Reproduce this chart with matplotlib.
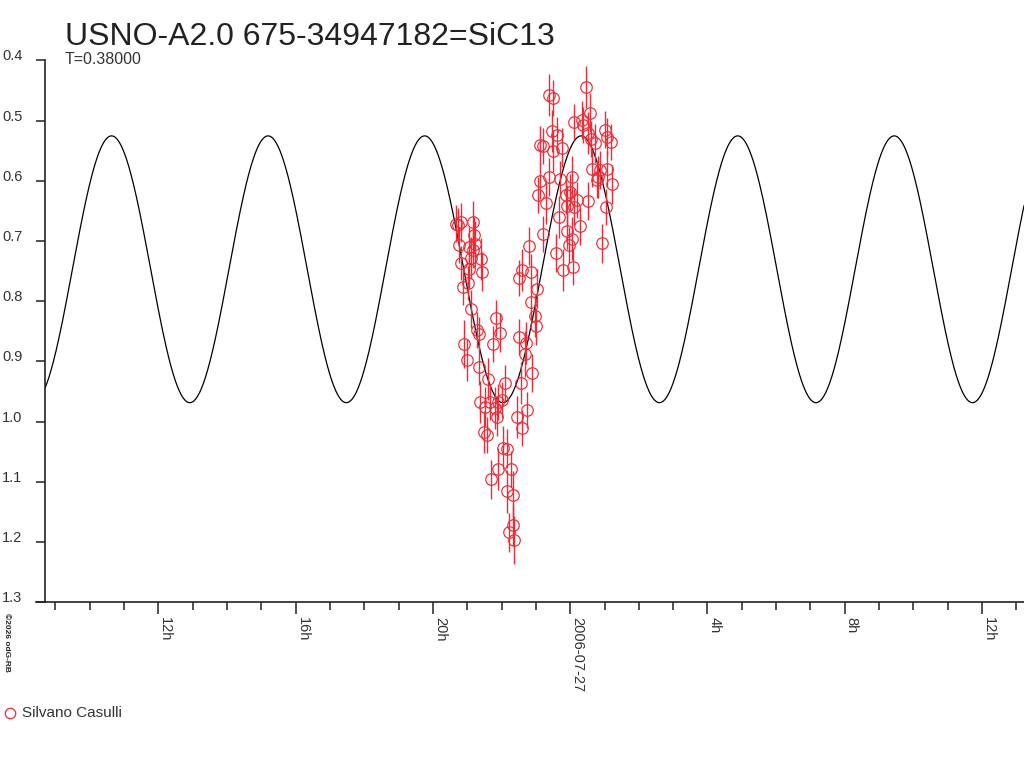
import numpy as np
import matplotlib
matplotlib.use("Agg")
import matplotlib.pyplot as plt
from matplotlib.lines import Line2D

plt.rcParams['font.family'] = ['Liberation Sans', 'DejaVu Sans']

# hours relative to 2006-07-27 00:00, magnitude, error
hours = [-3.33, -3.26, -3.19, -2.83, -3.24, -2.94, -2.78, -2.83, -2.59, -3.19,
         -2.94, -2.56, -2.97, -3.13, -2.89, -2.16, -2.70, -2.66, -2.05, -3.10,
         -2.24, -3.02, -2.66, -2.38, -1.90, -1.44, -1.10, -1.32, -1.29, -1.50,
         -1.99, -2.63, -2.48, -2.34, -2.19, -2.10, -2.14, -1.56, -1.25, -1.41,
         -2.51, -2.43, -1.95, -1.85, -2.10, -1.71, -2.30, -1.85, -1.68, -1.66,
         -1.77, -1.63, -1.21, -1.39, -1.49, -1.14, -0.96, -1.13, -1.03, -1.00,
         -0.80, -0.71, -0.42, -0.62, -0.51, 0.45, 0.59, 0.12, 0.34, 0.38,
         0.52, 1.01, 1.08, 1.18, -0.54, -0.37, -0.88, -0.79, -0.50, -0.25,
         0.65, 0.87, 1.08, 0.82, 0.77, 1.21, -0.88, -0.61, -0.30, 0.06,
         -0.93, -0.13, -0.01, -0.10, 0.11, 0.52, 0.20, -0.32, 1.04, 0.28,
         -0.10, 0.04, -0.03, 0.92, -0.20, 0.09, -2.88, -2.80, 0.60, 0.72]
mags = [0.671, 0.674, 0.669, 0.669, 0.707, 0.710, 0.705, 0.715, 0.730, 0.737,
        0.747, 0.751, 0.770, 0.777, 0.813, 0.828, 0.848, 0.855, 0.852, 0.871,
        0.871, 0.898, 0.909, 0.929, 0.936, 0.936, 0.919, 0.888, 0.869, 0.859,
        0.964, 0.968, 0.975, 0.968, 0.978, 0.968, 0.992, 0.992, 0.981, 1.010,
        1.017, 1.022, 1.043, 1.045, 1.078, 1.078, 1.096, 1.116, 1.122, 1.172,
        1.184, 1.197, 0.708, 0.748, 0.762, 0.751, 0.779, 0.801, 0.825, 0.842,
        0.688, 0.637, 0.720, 0.458, 0.463, 0.445, 0.487, 0.502, 0.499, 0.507,
        0.521, 0.515, 0.527, 0.535, 0.517, 0.524, 0.541, 0.542, 0.551, 0.545,
        0.581, 0.582, 0.581, 0.594, 0.599, 0.606, 0.600, 0.594, 0.597, 0.594,
        0.624, 0.624, 0.618, 0.642, 0.643, 0.634, 0.632, 0.660, 0.643, 0.675,
        0.683, 0.696, 0.707, 0.704, 0.748, 0.743, 0.728, 0.690, 0.530, 0.538]
errs = [0.030, 0.028, 0.032, 0.035, 0.030, 0.033, 0.038, 0.030, 0.035, 0.028,
        0.030, 0.032, 0.028, 0.030, 0.032, 0.030, 0.030, 0.028, 0.032, 0.040,
        0.030, 0.035, 0.030, 0.035, 0.030, 0.035, 0.032, 0.038, 0.035, 0.030,
        0.030, 0.035, 0.032, 0.030, 0.035, 0.030, 0.032, 0.035, 0.030, 0.030,
        0.035, 0.030, 0.035, 0.032, 0.035, 0.030, 0.032, 0.035, 0.040, 0.035,
        0.032, 0.040, 0.032, 0.035, 0.030, 0.030, 0.032, 0.030, 0.035, 0.030,
        0.030, 0.035, 0.032, 0.035, 0.030, 0.035, 0.032, 0.030, 0.032, 0.030,
        0.035, 0.030, 0.032, 0.030, 0.035, 0.030, 0.032, 0.030, 0.035, 0.032,
        0.030, 0.032, 0.030, 0.035, 0.030, 0.032, 0.030, 0.032, 0.030, 0.035,
        0.030, 0.032, 0.030, 0.035, 0.030, 0.032, 0.030, 0.035, 0.030, 0.032,
        0.030, 0.035, 0.030, 0.032, 0.035, 0.030, 0.035, 0.030, 0.030, 0.032]

# model: double wave, period T (days)
period = 0.38
mean_mag = 0.747
amp = 0.2215
peak_hour = 0.32

title = "USNO-A2.0 675-34947182=SiC13"
observer = "Silvano Casulli"
major_hours = [-12, -8, -4, 0, 4, 8, 12]
major_labels = ["12h", "16h", "20h", "2006-07-27", "4h", "8h", "12h"]
ytick_vals = [0.4, 0.5, 0.6, 0.7, 0.8, 0.9, 1.0, 1.1, 1.2, 1.3]

W, H = 1024, 768
fig = plt.figure(figsize=(W / 100, H / 100), dpi=100)
ax = fig.add_axes([45.3 / W, 1 - 602.3 / H, (W - 45.3) / W, (602.3 - 60.3) / H])

xmin, xmax = -15.29, 13.22
t = np.linspace(xmin, xmax, 2000)
model = mean_mag - amp * np.cos(2 * np.pi * (t - peak_hour) / (period * 24 / 2))
ax.plot(t, model, color='black', lw=0.9, zorder=2)

red = '#ee2a36'
ax.errorbar(hours, mags, yerr=errs, fmt='o', ms=8.3, mfc='none', mec=red, mew=0.85,
            ecolor=red, elinewidth=1.0, capsize=0, zorder=3)

ax.set_xlim(xmin, xmax)
ax.set_ylim(1.3, 0.4)

for s in ['top', 'right']:
    ax.spines[s].set_visible(False)
for s in ['left', 'bottom']:
    ax.spines[s].set_linewidth(1.2)
    ax.spines[s].set_color('#222222')

ax.set_yticks(ytick_vals)
ax.set_yticklabels(["%.1f" % v for v in ytick_vals], va='baseline')
ax.tick_params(axis='y', direction='out', length=6.5, width=1.1, pad=10,
               labelsize=10.5, labelcolor='#333333', color='#222222')

ax.set_xticks(major_hours)
ax.set_xticklabels(major_labels, rotation=270, ha='left', va='top')
ax.set_xticks(np.arange(-15, 14, 1), minor=True)
ax.tick_params(axis='x', which='major', direction='out', length=8.6, width=1.1,
               pad=2, labelsize=10.5, labelcolor='#333333', color='#222222')
ax.tick_params(axis='x', which='minor', direction='out', length=5.8, width=1.1,
               color='#222222')

# bottom axis line runs a little past the left axis
fig.add_artist(Line2D([36 / W, 45.3 / W], [1 - 602.3 / H, 1 - 602.3 / H],
                      color='#222222', lw=1.2))

fig.text(65 / W, 1 - 45 / H, title, fontsize=23, color='#222222', va='baseline')
fig.text(65 / W, 1 - 64 / H, "T=%.5f" % period, fontsize=11.5, color='#333333',
         va='baseline')

fig.add_artist(Line2D([10 / W], [1 - 713 / H], marker='o', ms=7.5, mfc='none',
                      mec=red, mew=0.9, lw=0))
fig.text(22 / W, 1 - 713 / H, observer, fontsize=11, color='#333333', va='center')

fig.text(3 / W, 1 - 613 / H, "\u00a92026 odG-RB", fontsize=6, rotation=270,
         ha='left', va='top', color='#222222', fontweight='bold')

fig.savefig("out.png", dpi=100)
